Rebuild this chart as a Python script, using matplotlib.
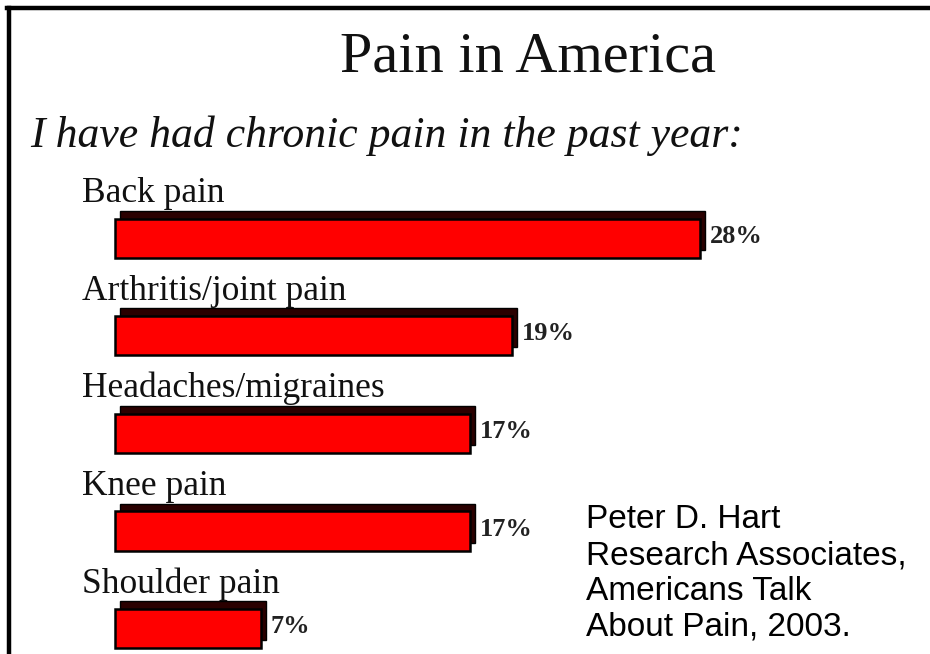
import matplotlib.pyplot as plt
from matplotlib.lines import Line2D

categories = ["Back pain", "Arthritis/joint pain", "Headaches/migraines",
              "Knee pain", "Shoulder pain"]
values = [28, 19, 17, 17, 7]
value_labels = ["28%", "19%", "17%", "17%", "7%"]

title = "Pain in America"
subtitle = "I have had chronic pain in the past year:"
source = "Peter D. Hart\nResearch Associates,\nAmericans Talk\nAbout Pain, 2003."

W, H = 930, 654
fig = plt.figure(figsize=(W / 100, H / 100), dpi=100)
fig.patch.set_facecolor("white")

# axes fill the whole canvas; x in percent, y in category slots
ax = fig.add_axes([0, 0, 1, 1])
ax.set_xlim(-5.5, 39.0)
ax.set_ylim(4.26, -2.44)
ax.axis("off")

pos = list(range(len(categories)))
bar_h = 0.40
depth_x = 0.22
depth_y = 0.08

# dark back face gives the bars a bevelled 3D look
ax.barh([p - depth_y for p in pos], values, height=bar_h, left=depth_x,
        color="#2a0000", edgecolor="black", linewidth=1.0, zorder=2)
ax.barh(pos, values, height=bar_h, color="#ff0000",
        edgecolor="black", linewidth=1.8, zorder=3)

for p, name, v, lab in zip(pos, categories, values, value_labels):
    ax.text(-1.6, p - 0.37, name, ha="left", va="baseline",
            family="Liberation Serif", fontsize=25.5, color="#111111")
    ax.text(v + 0.45, p - 0.02, lab, ha="left", va="center",
            family="Liberation Serif", fontsize=19, fontweight="bold",
            color="#222222")

fig.text(0.568, 0.912, title, ha="center", va="center",
         family="Liberation Serif", fontsize=42, color="#111111")
fig.text(0.032, 0.792, subtitle, ha="left", va="center",
         family="Liberation Serif", style="italic", fontsize=31.5,
         color="#111111")
fig.text(0.630, 0.229, source, ha="left", va="top",
         family="Liberation Sans", fontsize=24, linespacing=1.2,
         color="black")

# frame lines along the top and left edges
fig.add_artist(Line2D([9 / W, 9 / W], [0, 1 - 8 / H], color="black",
                      linewidth=3.2, transform=fig.transFigure))
fig.add_artist(Line2D([7 / W, 1], [1 - 8 / H, 1 - 8 / H], color="black",
                      linewidth=3.2, transform=fig.transFigure))

fig.savefig("out.png", dpi=100, facecolor="white")
